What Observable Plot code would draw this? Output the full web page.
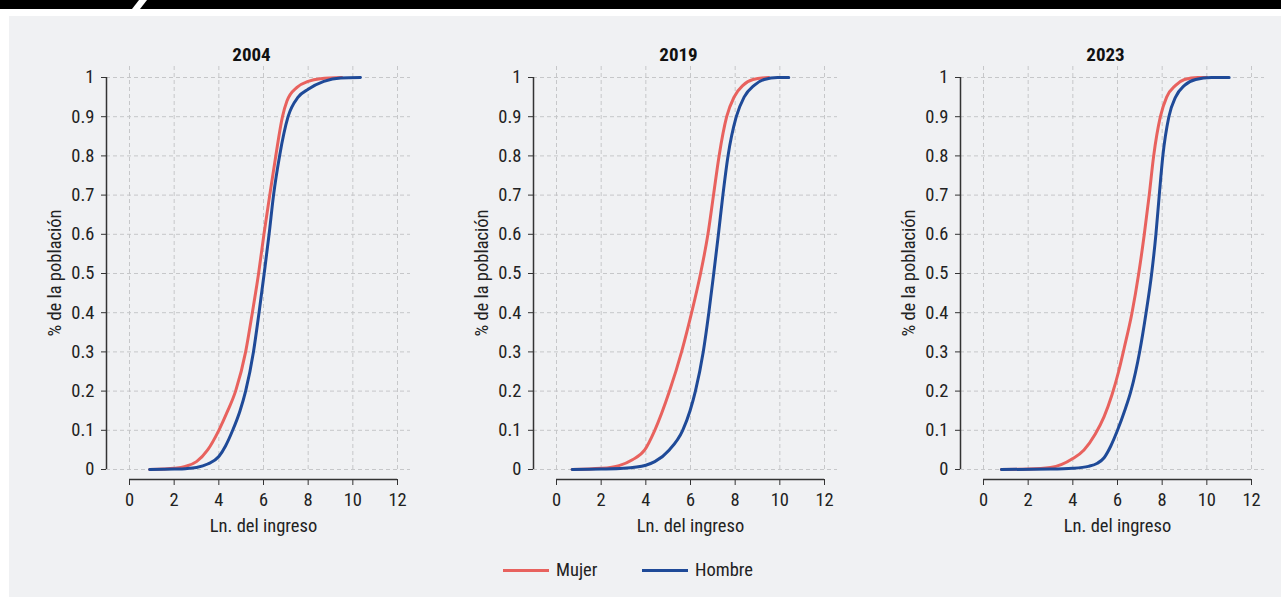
<!DOCTYPE html>
<html><head><meta charset="utf-8">
<script src="https://cdn.jsdelivr.net/npm/d3@7"></script>
<script src="https://cdn.jsdelivr.net/npm/@observablehq/plot@0.6"></script>
<style>
body{margin:0;width:1281px;height:597px;background:#fff;position:relative;overflow:hidden;font-family:"Roboto Condensed","DejaVu Sans Condensed","DejaVu Sans",sans-serif;font-stretch:condensed;}
#barL{position:absolute;left:0;top:0;height:9px;width:139px;background:#000;clip-path:polygon(0 0,100% 0,132px 100%,0 100%);}
#barR{position:absolute;left:140px;top:0;height:9px;width:1141px;background:#000;clip-path:polygon(7px 0,100% 0,100% 100%,0 100%);}
#bg{position:absolute;left:9px;top:16px;width:1272px;height:581px;background:#f0f1f3;}
#charts{position:absolute;left:0;top:0;display:flex;}
#charts svg{display:block;font-stretch:condensed;}
#legend{position:absolute;left:503px;top:558px;height:24px;display:flex;align-items:center;font-size:18.5px;color:#222;}
.item{display:flex;align-items:center;}
.sw{width:46px;height:3px;margin-right:7px;}
</style></head>
<body>
<div id="barL"></div><div id="barR"></div><div id="bg"></div>
<div id="charts"></div>
<div id="legend"></div>
<script>
const years = ["2004", "2019", "2023"];
const seriesNames = ["Mujer", "Hombre"];
const seriesColors = ["#e8625e", "#1f4a98"];
const xTicks = [0, 2, 4, 6, 8, 10, 12];
const yTicks = [0, 0.1, 0.2, 0.3, 0.4, 0.5, 0.6, 0.7, 0.8, 0.9, 1];
const xLabel = "Ln. del ingreso";
const yLabel = "% de la población";

// [ln income, cumulative share]
const mujer2004 = [[0.9,0],[1.5,0.001],[2.0,0.003],[2.5,0.008],[3.0,0.02],[3.5,0.05],[4.0,0.1],[4.4,0.15],[4.75,0.2],[5.2,0.3],[5.5,0.4],[5.78,0.5],[6.02,0.6],[6.28,0.7],[6.55,0.8],[6.85,0.9],[7.05,0.94],[7.5,0.975],[8.0,0.99],[8.55,0.997],[9.5,1.0]];
const hombre2004 = [[0.9,0],[2.0,0.001],[2.5,0.002],[3.0,0.005],[3.5,0.014],[4.0,0.033],[4.3,0.06],[4.62,0.1],[4.95,0.15],[5.2,0.2],[5.55,0.3],[5.8,0.4],[6.03,0.5],[6.25,0.6],[6.45,0.7],[6.72,0.8],[7.1,0.9],[7.55,0.95],[8.0,0.97],[8.7,0.99],[9.45,0.999],[10.34,1.0]];
const mujer2019 = [[0.7,0],[2.0,0.003],[2.8,0.01],[3.4,0.025],[3.95,0.05],[4.4,0.1],[5.06,0.2],[5.6,0.3],[6.05,0.4],[6.45,0.5],[6.78,0.6],[7.03,0.7],[7.28,0.8],[7.62,0.9],[7.95,0.95],[8.35,0.98],[8.8,0.995],[9.5,1.0]];
const hombre2019 = [[0.7,0],[2.0,0.001],[3.0,0.003],[4.0,0.011],[4.4,0.02],[5.05,0.05],[5.65,0.1],[5.98,0.15],[6.22,0.2],[6.57,0.3],[6.82,0.4],[7.04,0.5],[7.25,0.6],[7.45,0.7],[7.68,0.8],[8.05,0.9],[8.4,0.95],[8.85,0.98],[9.3,0.995],[9.9,1.0],[10.4,1.0]];
const mujer2023 = [[0.8,0],[2.0,0.001],[3.0,0.005],[4.0,0.028],[4.5,0.05],[5.0,0.09],[5.4,0.135],[5.75,0.19],[6.05,0.25],[6.3,0.31],[6.65,0.4],[6.95,0.5],[7.2,0.6],[7.42,0.7],[7.62,0.8],[7.92,0.9],[8.2,0.95],[8.6,0.98],[9.0,0.995],[9.6,1.0],[10.0,1.0]];
const hombre2023 = [[0.8,0],[3.0,0.001],[4.0,0.003],[4.7,0.008],[5.1,0.016],[5.4,0.03],[5.7,0.06],[6.0,0.1],[6.32,0.15],[6.6,0.2],[6.99,0.3],[7.28,0.4],[7.53,0.5],[7.72,0.6],[7.87,0.7],[8.03,0.8],[8.3,0.9],[8.6,0.95],[9.0,0.98],[9.5,0.995],[10.2,1.0],[11.0,1.0]];

const panels = [
  [years[0], mujer2004, hombre2004],
  [years[1], mujer2019, hombre2019],
  [years[2], mujer2023, hombre2023]
];

const font = '"Roboto Condensed","DejaVu Sans Condensed","DejaVu Sans",sans-serif';
const axisColor = "#333";
const gridStyle = {stroke: "#c6c7c9", strokeOpacity: 1, strokeDasharray: "4,3"};

function panel(year, mujer, hombre) {
  const data = [
    ...mujer.map(([x, p]) => ({x, p, s: seriesNames[0]})),
    ...hombre.map(([x, p]) => ({x, p, s: seriesNames[1]}))
  ];
  return Plot.plot({
    width: 427, height: 545,
    marginTop: 66, marginBottom: 66, marginLeft: 106, marginRight: 17,
    insetLeft: 23, insetRight: 13, insetTop: 11, insetBottom: 10,
    style: {background: "transparent", fontFamily: font, fontSize: "18.5px", fontStretch: "condensed", color: "#222", overflow: "visible"},
    x: {domain: [xTicks[0], xTicks[xTicks.length - 1]]},
    y: {domain: [yTicks[0], yTicks[yTicks.length - 1]]},
    color: {domain: seriesNames, range: seriesColors},
    marks: [
      Plot.gridX(xTicks, {...gridStyle, insetBottom: 10}),
      Plot.gridY(yTicks, gridStyle),
      Plot.ruleX([xTicks[0]], {y1: yTicks[0], y2: yTicks[yTicks.length - 1], dx: -23, stroke: axisColor, strokeWidth: 1.5}),
      Plot.ruleY([yTicks[0]], {x1: xTicks[0], x2: xTicks[xTicks.length - 1], dy: 10, stroke: axisColor, strokeWidth: 1.5}),
      Plot.axisX(xTicks, {tickSize: 6, tickPadding: 7, label: null, stroke: axisColor}),
      Plot.axisY(yTicks, {tickSize: 5, tickPadding: 7, label: null, stroke: axisColor, tickFormat: d => String(d)}),
      Plot.line(data, {x: "x", y: "p", z: "s", stroke: "s", strokeWidth: 3, curve: "monotone-x"}),
      Plot.text([year], {frameAnchor: "top", lineAnchor: "middle", textAnchor: "middle", dy: -12, dx: -7, fontWeight: "bold", fontSize: 19, fill: "#111"}),
      Plot.text([xLabel], {frameAnchor: "bottom", lineAnchor: "middle", textAnchor: "middle", dy: 47, dx: 5, fontSize: 18.5, fill: "#222"}),
      Plot.text([yLabel], {frameAnchor: "left", lineAnchor: "middle", textAnchor: "middle", dx: -51, rotate: -90, fontSize: 18.5, fill: "#222"})
    ]
  });
}

const charts = document.getElementById("charts");
for (const [y, m, h] of panels) charts.appendChild(panel(y, m, h));

const legend = document.getElementById("legend");
seriesNames.forEach((n, i) => {
  const item = document.createElement("span");
  item.className = "item";
  if (i === 0) item.style.width = "139px";
  const sw = document.createElement("span");
  sw.className = "sw"; sw.style.background = seriesColors[i];
  const t = document.createElement("span");
  t.textContent = n;
  item.appendChild(sw); item.appendChild(t);
  legend.appendChild(item);
});
</script>
</body></html>
